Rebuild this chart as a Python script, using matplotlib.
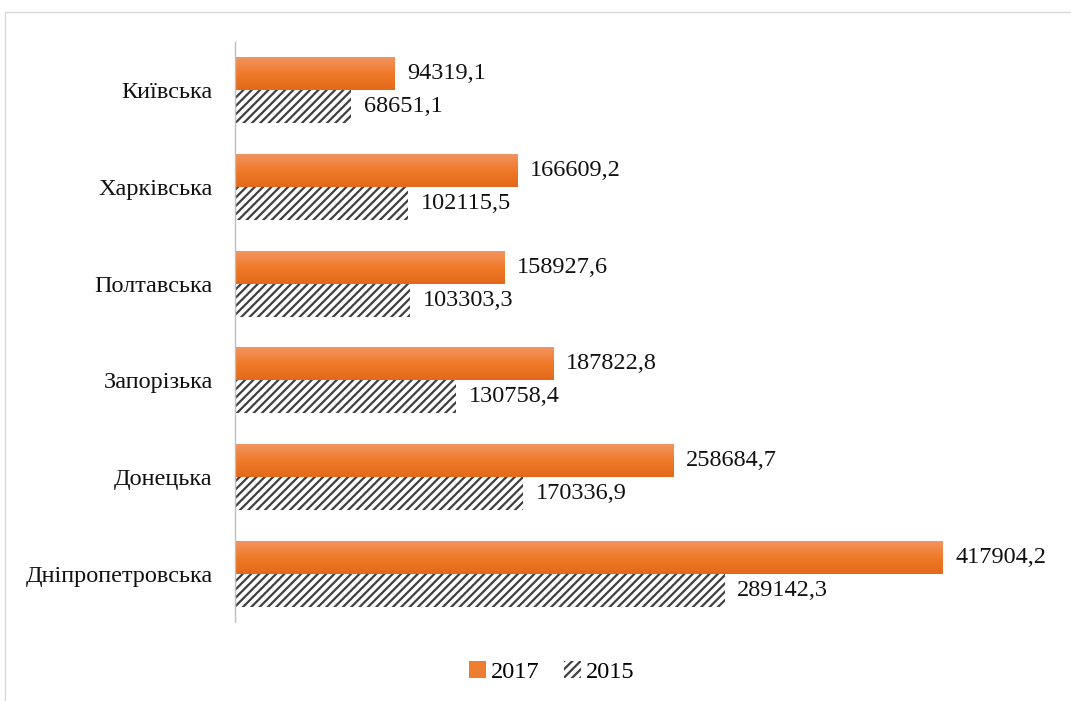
import matplotlib
matplotlib.use("Agg")
import matplotlib.pyplot as plt
import numpy as np
from matplotlib.patches import Patch, Rectangle
from matplotlib.colors import LinearSegmentedColormap

categories = ["Київська", "Харківська", "Полтавська", "Запорізька", "Донецька", "Дніпропетровська"]
values_2017 = [94319.1, 166609.2, 158927.6, 187822.8, 258684.7, 417904.2]
values_2015 = [68651.1, 102115.5, 103303.3, 130758.4, 170336.9, 289142.3]
labels_2017 = ["94319,1", "166609,2", "158927,6", "187822,8", "258684,7", "417904,2"]
labels_2015 = ["68651,1", "102115,5", "103303,3", "130758,4", "170336,9", "289142,3"]

plt.rcParams['font.family'] = ['Liberation Serif', 'DejaVu Serif']
plt.rcParams['hatch.linewidth'] = 1.6

FS = 17.5
HATCH_COLOR = '#404040'

fig = plt.figure(figsize=(10.71, 7.01), dpi=100)
fig.patch.set_facecolor('white')
# outer light border
fig.patches.append(Rectangle((5/1071, -0.01), 1.1, 1 - 12/701 + 0.01, transform=fig.transFigure,
                             fill=False, edgecolor='#D9D9D9', linewidth=1.0))

ax = fig.add_axes([235/1071, 1 - 622/701, (997 - 235)/1071, (622 - 42)/701])

n = len(categories)
y = np.arange(n)[::-1].astype(float)  # first category at top
h = 0.34

bars17 = ax.barh(y + h/2, values_2017, height=h, color='#ED7D31', edgecolor='none', zorder=2)
bars15 = ax.barh(y - h/2, values_2015, height=h, facecolor='white', edgecolor=HATCH_COLOR,
                 hatch='////', linewidth=0, zorder=2)

# gradient on orange bars
cmap = LinearSegmentedColormap.from_list('og', ['#E2691A', '#F07A28', '#F29460'])
grad = np.linspace(0, 1, 64).reshape(-1, 1)
for b in bars17:
    x0, y0, w, hh = b.get_x(), b.get_y(), b.get_width(), b.get_height()
    ax.imshow(grad, extent=[x0, x0 + w, y0, y0 + hh], origin='lower', cmap=cmap,
              aspect='auto', zorder=2.5, interpolation='bilinear')
    b.set_facecolor('none')

ax.set_xlim(0, 450000)
ax.set_ylim(-0.5, n - 0.5)
ax.set_yticks(y)
ax.set_yticklabels(categories, fontsize=FS, color='#111111')
ax.tick_params(axis='y', length=0, pad=16)
ax.set_xticks([])
for s in ['top', 'right', 'bottom']:
    ax.spines[s].set_visible(False)
ax.spines['left'].set_color('#BFBFBF')
ax.spines['left'].set_linewidth(1.0)

ax.bar_label(bars17, labels=labels_2017, padding=9, fontsize=FS, color='#111111')
ax.bar_label(bars15, labels=labels_2015, padding=9, fontsize=FS, color='#111111')

handles = [Patch(facecolor='#ED7D31', edgecolor='none', label='2017'),
           Patch(facecolor='white', edgecolor=HATCH_COLOR, hatch='////', linewidth=0, label='2015')]
fig.legend(handles=handles, loc='center', bbox_to_anchor=(552/1071, 1 - 672/701), ncol=2,
           frameon=False, fontsize=FS, handlelength=0.7, handleheight=0.7,
           handletextpad=0.2, columnspacing=1.0)

fig.savefig('out.png', dpi=100, facecolor='white')
